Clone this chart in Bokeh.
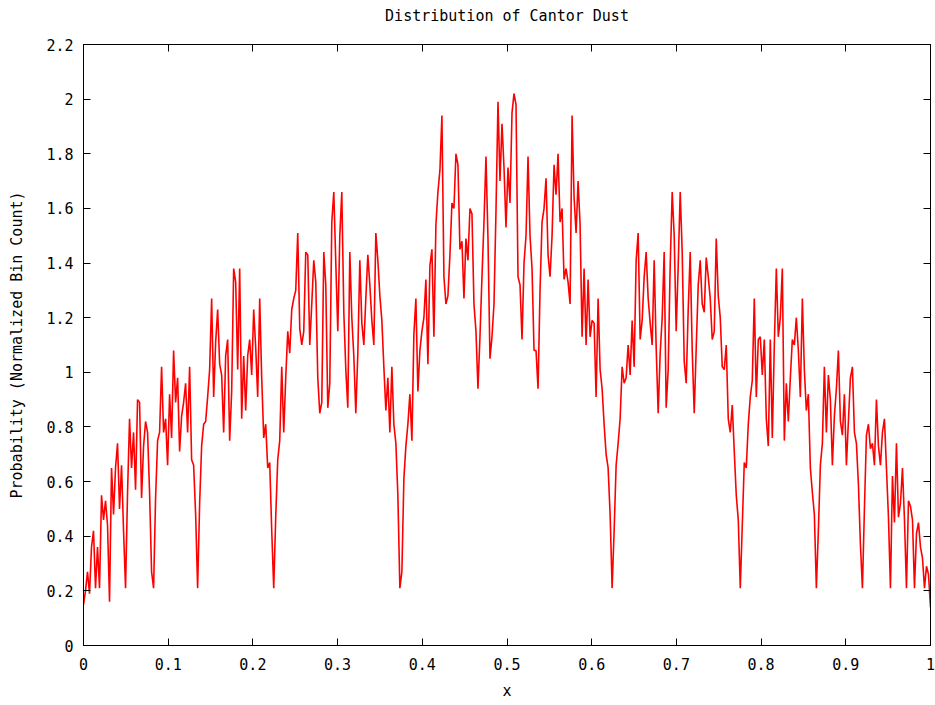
import numpy as np
from bokeh.plotting import figure
from bokeh.models import LinearAxis, FixedTicker, CustomJSTickFormatter, Range1d
from bokeh.embed import file_html
from bokeh.resources import INLINE

# Normalized bin counts, read left to right across x in [0, 1] (equal-width bins)
seg1 = [0.15, 0.20, 0.27, 0.19, 0.36, 0.42, 0.21, 0.36, 0.21, 0.55,
        0.46, 0.53, 0.44, 0.16, 0.65, 0.48, 0.65, 0.74, 0.50, 0.66,
        0.42, 0.21, 0.56, 0.83, 0.65, 0.78, 0.57, 0.90, 0.89, 0.54,
        0.73, 0.82, 0.78, 0.56, 0.27, 0.21, 0.54, 0.75, 0.78, 1.02,
        0.78, 0.83, 0.66, 0.92, 0.76, 1.08, 0.89, 0.98, 0.71, 0.84,
        0.89, 0.96, 0.78, 1.02]
seg2 = [0.68, 0.66, 0.48, 0.21, 0.52, 0.73, 0.81, 0.82, 0.91, 1.01,
        1.27, 0.91, 1.11, 1.23, 1.03, 0.99, 0.78, 1.06, 1.12, 0.75,
        0.93, 1.38, 1.33, 1.01, 1.38, 0.83, 1.06, 0.86, 1.06, 1.12,
        0.99, 1.23, 1.09, 0.91, 1.27, 0.98, 0.76, 0.81, 0.65, 0.67,
        0.42, 0.21, 0.47, 0.68, 0.75, 1.02, 0.78, 0.98, 1.15, 1.07,
        1.23, 1.27, 1.30]
seg3 = [1.51, 1.16, 1.10, 1.15, 1.44, 1.43, 1.10, 1.25, 1.41, 1.33,
        0.98, 0.85, 0.89, 1.44, 1.32, 0.87, 0.96, 1.55, 1.66, 1.40,
        1.15, 1.50, 1.66, 1.22, 1.01, 0.87, 1.44, 1.20, 1.06, 0.85,
        1.07, 1.41, 1.18, 1.10, 1.27, 1.43, 1.32, 1.19, 1.10, 1.51,
        1.41, 1.28, 1.19, 1.02, 0.86, 0.98, 0.78, 1.02, 0.81, 0.74,
        0.55, 0.21]
seg4 = [0.27, 0.61, 0.73, 0.81, 0.92, 0.75, 1.14, 1.27, 0.93, 1.08,
        1.15, 1.20, 1.34, 1.03, 1.39, 1.45, 1.13, 1.54, 1.66, 1.74,
        1.94, 1.35, 1.25, 1.28, 1.43, 1.62, 1.60, 1.80, 1.76, 1.45,
        1.48, 1.27, 1.49, 1.41, 1.60, 1.58, 1.25, 1.15, 0.94, 1.13,
        1.35, 1.55, 1.79, 1.49, 1.05, 1.13, 1.25, 1.59, 1.99, 1.70,
        1.91, 1.75]
seg5 = [1.53, 1.75, 1.62, 1.95, 2.02, 1.98, 1.35, 1.32, 1.12, 1.40,
        1.50, 1.79, 1.50, 1.38, 1.08, 1.08, 0.94, 1.30, 1.55, 1.60,
        1.71, 1.43, 1.35, 1.50, 1.76, 1.65, 1.80, 1.55, 1.60, 1.34,
        1.38, 1.33, 1.25, 1.94, 1.64, 1.51, 1.70, 1.54, 1.13, 1.38,
        1.10, 1.34, 1.13, 1.19, 1.18, 0.91, 1.27, 1.01, 0.94, 0.81,
        0.70, 0.65, 0.48]
seg6 = [0.21, 0.42, 0.66, 0.74, 0.83, 1.02, 0.96, 0.98, 1.10, 0.99,
        1.19, 1.02, 1.41, 1.51, 1.12, 1.19, 1.35, 1.44, 1.27, 1.18,
        1.10, 1.41, 1.09, 0.85, 1.07, 1.20, 1.44, 0.87, 1.01, 1.39,
        1.66, 1.50, 1.15, 1.39, 1.66, 1.44, 1.04, 0.96, 1.23, 1.44,
        1.08, 0.85, 1.09, 1.32, 1.41, 1.25, 1.22, 1.42, 1.35, 1.27,
        1.12, 1.15]
seg7 = [1.49, 1.28, 1.20, 1.02, 1.01, 1.10, 0.83, 0.78, 0.88, 0.71,
        0.55, 0.46, 0.21, 0.44, 0.67, 0.65, 0.81, 0.91, 0.97, 1.27,
        0.91, 1.12, 1.13, 0.99, 1.12, 0.83, 0.73, 1.12, 0.76, 1.10,
        1.38, 1.13, 1.20, 1.38, 0.75, 0.96, 0.82, 0.98, 1.12, 1.10,
        1.20, 1.08, 0.91, 1.27, 1.01, 0.86, 0.92, 0.65, 0.56, 0.48,
        0.21, 0.42, 0.66]
seg8 = [0.74, 1.02, 0.78, 0.99, 0.90, 0.66, 0.84, 0.94, 1.08, 0.82,
        0.77, 0.92, 0.66, 0.82, 0.98, 1.02, 0.78, 0.74, 0.59, 0.37,
        0.21, 0.50, 0.77, 0.81, 0.72, 0.74, 0.66, 0.90, 0.73, 0.66,
        0.78, 0.83, 0.65, 0.47, 0.21, 0.62, 0.45, 0.74, 0.47, 0.52,
        0.65, 0.46, 0.21, 0.53, 0.51, 0.46, 0.21, 0.41, 0.45, 0.36,
        0.32, 0.21, 0.29, 0.26, 0.14]

prob = seg1 + seg2 + seg3 + seg4 + seg5 + seg6 + seg7 + seg8
x_bins = np.linspace(0.0, 1.0, len(prob))

x_ticks = [0.0, 0.1, 0.2, 0.3, 0.4, 0.5, 0.6, 0.7, 0.8, 0.9, 1.0]
y_ticks = [0.0, 0.2, 0.4, 0.6, 0.8, 1.0, 1.2, 1.4, 1.6, 1.8, 2.0, 2.2]
title_text = "Distribution of Cantor Dust"

FONT = "DejaVu Sans Mono"
FS = "15px"

p = figure(width=935, height=705, output_backend="svg", toolbar_location=None,
           x_range=Range1d(0, 1), y_range=Range1d(0, 2.2),
           min_border_left=83, min_border_right=5, min_border_top=44, min_border_bottom=60,
           background_fill_color="white", border_fill_color="white")

p.line(x_bins, prob, line_color="#ff0000", line_width=1.6)

p.xgrid.visible = False
p.ygrid.visible = False
p.outline_line_color = "black"
p.outline_line_width = 1

fmt = CustomJSTickFormatter(code="return Number.isInteger(tick) ? tick.toFixed(0) : tick.toFixed(1);")
blank = CustomJSTickFormatter(code="return '';")

def style_axis(ax, ticks, formatter, label=None, label_standoff=0, standoff=0):
    ax.ticker = FixedTicker(ticks=ticks)
    ax.formatter = formatter
    ax.major_tick_in = 7
    ax.major_tick_out = 0
    ax.minor_tick_in = 0
    ax.minor_tick_out = 0
    ax.axis_line_color = "black"
    ax.major_tick_line_color = "black"
    ax.major_label_text_font = FONT
    ax.major_label_text_font_size = FS
    ax.major_label_text_color = "black"
    ax.major_label_standoff = standoff
    if label is not None:
        ax.axis_label = label
        ax.axis_label_text_font = FONT
        ax.axis_label_text_font_size = FS
        ax.axis_label_text_font_style = "normal"
        ax.axis_label_text_color = "black"
        ax.axis_label_standoff = label_standoff

style_axis(p.xaxis[0], x_ticks, fmt, "x", 9, 12)
style_axis(p.yaxis[0], y_ticks, fmt, "Probability (Normalized Bin Count)", 17, 10)

# top mirror axis carries the chart title as its label
top = LinearAxis()
style_axis(top, x_ticks, blank, title_text, 20, 0)
top.major_label_text_font_size = "0px"
p.add_layout(top, "above")

right = LinearAxis()
style_axis(right, y_ticks, blank)
right.major_label_text_font_size = "0px"
p.add_layout(right, "right")

open("out.html", "w").write(file_html(p, INLINE))
